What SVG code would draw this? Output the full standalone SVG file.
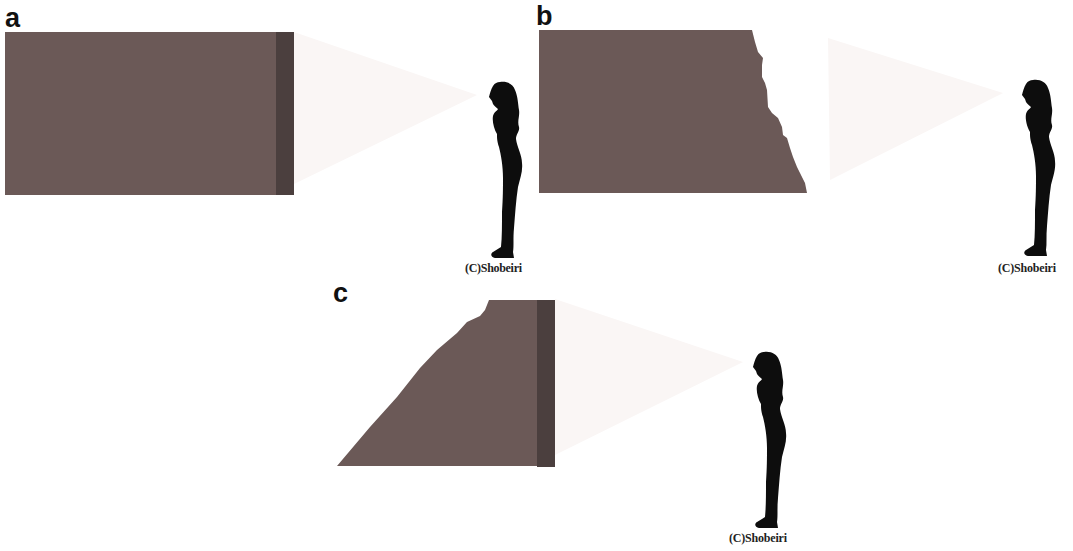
<svg xmlns="http://www.w3.org/2000/svg" xmlns:xlink="http://www.w3.org/1999/xlink" width="1073" height="551" viewBox="0 0 1073 551">
  <style>
    .wall { fill: #6b5957; }
    .band { fill: #4b3f3e; }
    .beam { fill: #faf6f5; }
    .figure { fill: #0d0d0d; }
    .panel-label { font-family: "Liberation Sans", Arial, sans-serif; font-weight: bold; font-size: 27px; fill: #111; }
    .credit { font-family: "Liberation Serif", "Times New Roman", serif; font-weight: bold; font-size: 12px; fill: #222; }
  </style>
  <defs>
    <!-- standing woman in profile, facing left; head top near (500,82) -->
    <path id="woman" class="figure" d="M 500 82
      C 507 81, 513 84, 515 90
      C 518 97, 518 104, 519 110
      C 520 116, 517 121, 519 127
      C 520 131, 516 134, 516 139
      C 517 147, 522 155, 522 163
      C 523 171, 520 179, 518 187
      C 516 200, 515 215, 514 228
      C 513 238, 514 246, 513 252
      L 514 258
      L 495 258
      C 491 257, 490 254, 493 252
      L 501 247
      C 502 237, 502 225, 502 212
      C 503 198, 503 188, 503 178
      C 503 166, 501 155, 499 147
      C 497 141, 497 138, 497 134
      C 494 129, 492 121, 493 116
      C 494 112, 497 111, 498 109
      C 496 107, 494 106, 493 104
      L 492 101
      L 489 97
      C 490 93, 491 89, 493 86
      C 495 83, 497 82, 500 82 Z"/>
  </defs>

  <!-- panel a -->
  <g id="panel-a">
    <text class="panel-label" x="5" y="27">a</text>
    <g id="wall-a">
      <rect class="wall" x="5" y="32" width="272" height="163"/>
      <rect class="band" x="276" y="32" width="18" height="163"/>
    </g>
    <polygon id="beam-a" class="beam" points="294,32 477,95 294,184"/>
    <g id="person-a">
      <use xlink:href="#woman"/>
      <text class="credit" x="465" y="272" textLength="57">(C)Shobeiri</text>
    </g>
  </g>

  <!-- panel b -->
  <g id="panel-b">
    <text class="panel-label" x="536" y="25">b</text>
    <path id="wall-b" class="wall" d="M 539 30 L 752 30 L 755 42 L 758 52 L 763 58 L 762 65 L 762 77 L 765 83 L 767 90 L 768 107 L 772 113 L 778 118 L 782 127 L 783 135 L 787 138 L 790 148 L 793 157 L 797 167 L 800 173 L 805 183 L 807 193 L 539 193 Z"/>
    <polygon id="beam-b" class="beam" points="828,38 1003,93 830,180"/>
    <g id="person-b" transform="translate(533,-2)">
      <use xlink:href="#woman"/>
      <text class="credit" x="465" y="274" textLength="58">(C)Shobeiri</text>
    </g>
  </g>

  <!-- panel c -->
  <g id="panel-c">
    <text class="panel-label" x="333" y="302">c</text>
    <g id="wall-c">
      <path class="wall" d="M 337 466 L 370 427 L 397 397 L 420 368 L 437 350 L 457 333 L 467 322 L 480 316 L 485 310 L 489 300 L 538 300 L 538 466 Z"/>
      <rect class="band" x="537" y="300" width="18" height="167"/>
    </g>
    <polygon id="beam-c" class="beam" points="555,299 743,362 555,455"/>
    <g id="person-c" transform="translate(264,270)">
      <use xlink:href="#woman"/>
      <text class="credit" x="465" y="272" textLength="58">(C)Shobeiri</text>
    </g>
  </g>
</svg>
